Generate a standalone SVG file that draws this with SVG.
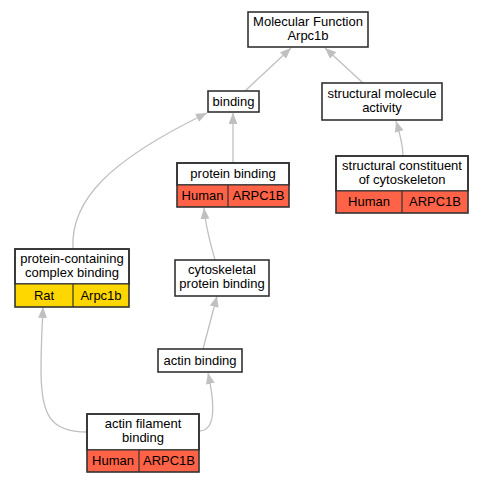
<svg xmlns="http://www.w3.org/2000/svg" width="483" height="483" viewBox="0 0 483 483">
<style>
text{font-family:"Liberation Sans",Arial,sans-serif;font-size:13px;fill:#000;text-anchor:middle}
.box{fill:#fff;stroke:#333;stroke-width:1.6}
.frame{fill:none;stroke:#333;stroke-width:1.6}
.div{stroke:#333;stroke-width:1.2;fill:none}
.hum{fill:#ff6347}
.rat{fill:#ffd700}
.edge{fill:none;stroke:#c0c0c0;stroke-width:1.3}
</style>
<defs>
<marker id="arr" markerUnits="userSpaceOnUse" viewBox="0 0 11 9" refX="11" refY="4.5" markerWidth="11" markerHeight="9" orient="auto">
<path d="M0,0 L11,4.5 L0,9 z" fill="#c0c0c0"/>
</marker>
</defs>
<g id="edges">
<path class="edge" marker-end="url(#arr)" d="M245,91 L291,48"/>
<path class="edge" marker-end="url(#arr)" d="M363,83 L325,48"/>
<path class="edge" marker-end="url(#arr)" d="M403,156 C403,145 400,134 396,121"/>
<path class="edge" marker-end="url(#arr)" d="M233,163 L233,113"/>
<path class="edge" marker-end="url(#arr)" d="M73,249 C70,200 110,160 207,113"/>
<path class="edge" marker-end="url(#arr)" d="M215,260 C211,245 206,230 204,208"/>
<path class="edge" marker-end="url(#arr)" d="M203,349 L217,296"/>
<path class="edge" marker-end="url(#arr)" d="M199,431 C216,431 215,405 208,373"/>
<path class="edge" marker-end="url(#arr)" d="M87,432 C50,432 41,415 41,370 C41,345 42,330 43,307"/>
</g>
<g id="mf">
<rect class="box" x="248" y="12" width="120" height="35"/>
<text x="308" y="26">Molecular Function</text>
<text x="308" y="40">Arpc1b</text>
</g>
<g id="binding">
<rect class="box" x="208" y="91" width="51" height="21"/>
<text x="233.5" y="106">binding</text>
</g>
<g id="sma">
<rect class="box" x="322" y="83" width="120" height="37"/>
<text x="382" y="98">structural molecule</text>
<text x="382" y="112">activity</text>
</g>
<g id="scc">
<rect class="box" x="336" y="156" width="132" height="35"/>
<rect class="hum" x="336" y="191" width="132" height="22"/>
<line class="div" x1="336" y1="191" x2="468" y2="191"/>
<line class="div" x1="402" y1="191" x2="402" y2="213"/>
<rect class="frame" x="336" y="156" width="132" height="57"/>
<text x="402" y="170">structural constituent</text>
<text x="402" y="184">of cytoskeleton</text>
<text x="369" y="206">Human</text>
<text x="435" y="206">ARPC1B</text>
</g>
<g id="pb">
<rect class="box" x="177" y="163" width="112" height="22"/>
<rect class="hum" x="177" y="185" width="112" height="22"/>
<line class="div" x1="177" y1="185" x2="289" y2="185"/>
<line class="div" x1="228" y1="185" x2="228" y2="207"/>
<rect class="frame" x="177" y="163" width="112" height="44"/>
<text x="233" y="178">protein binding</text>
<text x="202.5" y="200">Human</text>
<text x="258.5" y="200">ARPC1B</text>
</g>
<g id="pcb">
<rect class="box" x="15" y="249" width="114" height="35"/>
<rect class="rat" x="15" y="284" width="114" height="23"/>
<line class="div" x1="15" y1="284" x2="129" y2="284"/>
<line class="div" x1="73" y1="284" x2="73" y2="307"/>
<rect class="frame" x="15" y="249" width="114" height="58"/>
<text x="72" y="263">protein-containing</text>
<text x="72" y="277">complex binding</text>
<text x="44" y="300">Rat</text>
<text x="101" y="300">Arpc1b</text>
</g>
<g id="cpb">
<rect class="box" x="175" y="260" width="94" height="36"/>
<text x="222" y="274">cytoskeletal</text>
<text x="222" y="288">protein binding</text>
</g>
<g id="ab">
<rect class="box" x="158" y="349" width="84" height="23"/>
<text x="200" y="364.5">actin binding</text>
</g>
<g id="afb">
<rect class="box" x="87" y="414" width="112" height="36"/>
<rect class="hum" x="87" y="450" width="112" height="22"/>
<line class="div" x1="87" y1="450" x2="199" y2="450"/>
<line class="div" x1="139" y1="450" x2="139" y2="472"/>
<rect class="frame" x="87" y="414" width="112" height="58"/>
<text x="143" y="428">actin filament</text>
<text x="143" y="442">binding</text>
<text x="113" y="465">Human</text>
<text x="169" y="465">ARPC1B</text>
</g>
</svg>
